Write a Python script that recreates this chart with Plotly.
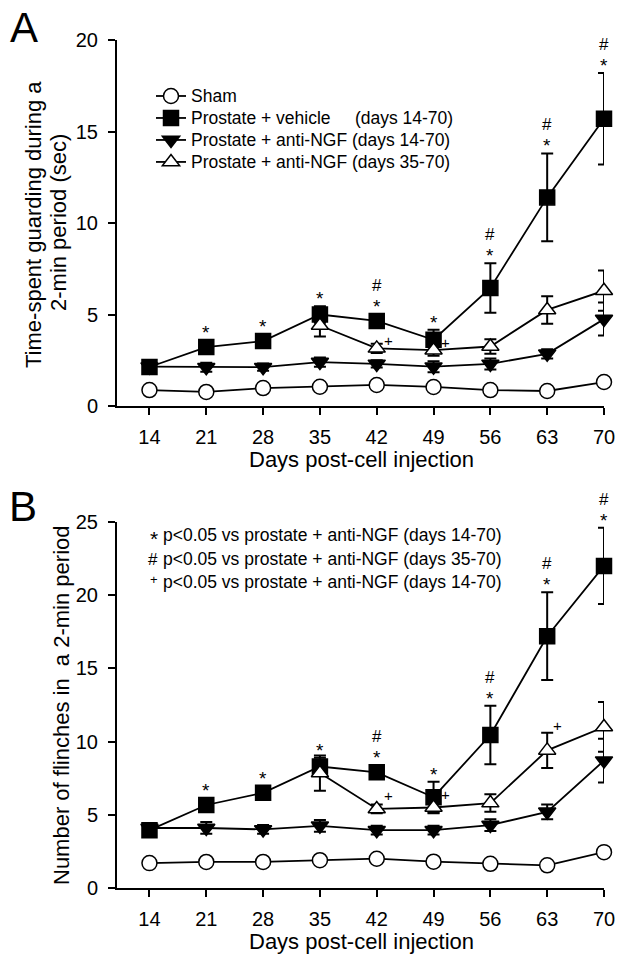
import plotly.graph_objects as go

# ---------------- data ----------------
days = [14, 21, 28, 35, 42, 49, 56, 63, 70]
days_late = [35, 42, 49, 56, 63, 70]
tick_labels = ["14", "21", "28", "35", "42", "49", "56", "63", "70"]

series_names = ["Sham",
                "Prostate + vehicle\u00a0\u00a0\u00a0\u00a0 (days 14-70)",
                "Prostate + anti-NGF (days 14-70)",
                "Prostate + anti-NGF (days 35-70)"]

# Panel A: time spent guarding (sec)
A_sham = [0.87, 0.77, 0.98, 1.05, 1.15, 1.04, 0.87, 0.82, 1.31]
A_sham_err = [0.12, 0.12, 0.12, 0.12, 0.12, 0.12, 0.12, 0.12, 0.15]
A_veh = [2.13, 3.22, 3.55, 5.0, 4.65, 3.62, 6.45, 11.4, 15.7]
A_veh_err = [0.2, 0.25, 0.25, 0.45, 0.3, 0.55, 1.35, 2.4, 2.5]
A_ngf1 = [2.15, 2.12, 2.12, 2.4, 2.3, 2.15, 2.3, 2.85, 4.75]
A_ngf1_err = [0.3, 0.25, 0.2, 0.25, 0.2, 0.3, 0.3, 0.25, 0.9]
A_ngf2 = [4.4, 3.15, 3.05, 3.25, 5.25, 6.3]
A_ngf2_err = [0.6, 0.25, 0.3, 0.4, 0.75, 1.1]
A_star = [21, 28, 35, 42, 49, 56, 63, 70]
A_hash = [42, 56, 63, 70]
A_plus = [42, 49]

# Panel B: number of flinches
B_sham = [1.7, 1.78, 1.78, 1.9, 2.0, 1.8, 1.65, 1.55, 2.45]
B_sham_err = [0.15, 0.15, 0.15, 0.15, 0.15, 0.15, 0.15, 0.15, 0.2]
B_veh = [3.95, 5.67, 6.5, 8.3, 7.9, 6.2, 10.45, 17.2, 22.0]
B_veh_err = [0.3, 0.3, 0.3, 0.6, 0.3, 1.05, 2.0, 3.0, 2.6]
B_ngf1 = [4.1, 4.1, 4.0, 4.25, 3.95, 3.95, 4.3, 5.2, 8.7]
B_ngf1_err = [0.3, 0.4, 0.3, 0.4, 0.3, 0.3, 0.4, 0.5, 1.5]
B_ngf2 = [7.85, 5.4, 5.5, 5.8, 9.4, 11.0]
B_ngf2_err = [1.2, 0.3, 0.4, 0.6, 1.2, 1.7]
B_star = [21, 28, 35, 42, 49, 56, 63, 70]
B_hash = [42, 56, 63, 70]
B_plus = [42, 49, 63]

sig_legend = [("*", "p<0.05 vs prostate + anti-NGF (days 14-70)"),
              ("#", "p<0.05 vs prostate + anti-NGF (days 35-70)"),
              ("+", "p<0.05 vs prostate + anti-NGF (days 14-70)")]

# ---------------- layout geometry ----------------
W, H = 624, 961
ML, MR, MT, MB = 117, 20, 40, 73
PW, PH = W - ML - MR, H - MT - MB
FONT = "Arial, Liberation Sans, sans-serif"


def px_x(p):
    return (p - ML) / PW


def px_y(p):
    return (H - MB - p) / PH


domA = [px_y(406), 1.0]
domB = [0.0, px_y(522)]
scaleA = (domA[1] - domA[0]) * PH / 20.0
scaleB = (domB[1] - domB[0]) * PH / 25.0

fig = go.Figure()

styles = [
    dict(symbol="circle", color="white"),
    dict(symbol="square", color="black"),
    dict(symbol="triangle-down", color="black"),
    dict(symbol="triangle-up", color="white"),
]


def add_panel(xa, ya, data, show):
    for i, (xs, ys, es) in enumerate(data):
        st = styles[i]
        fig.add_trace(go.Scatter(
            x=xs, y=ys, xaxis=xa, yaxis=ya, mode="lines+markers",
            name="<span style='font-size:17.5px'>" + series_names[i] + "</span>",
            showlegend=show, legendrank=i,
            line=dict(color="black", width=1.8),
            marker=dict(symbol=st["symbol"], size=15,
                        color=st["color"], line=dict(color="black", width=1.5)),
            error_y=dict(type="data", array=es, color="black", thickness=2, width=6),
            cliponaxis=False,
        ))


add_panel("x", "y", [(days, A_sham, A_sham_err), (days, A_veh, A_veh_err),
                     (days, A_ngf1, A_ngf1_err), (days_late, A_ngf2, A_ngf2_err)], True)
add_panel("x2", "y2", [(days, B_sham, B_sham_err), (days, B_veh, B_veh_err),
                       (days, B_ngf1, B_ngf1_err), (days_late, B_ngf2, B_ngf2_err)], False)

ann = []


def note(**kw):
    kw.setdefault("xanchor", "center")
    kw.setdefault("yanchor", "middle")
    kw.setdefault("showarrow", False)
    ann.append(kw)


STAR = "<span style='font-size:19px'>*</span>"


def sig_marks(xr, yr, vals, errs, stars, hashes, scale):
    for d in stars:
        k = days.index(d)
        top = max(vals[k] + errs[k], vals[k] + 7.0 / scale)
        txt = ("#<br>" + STAR) if d in hashes else STAR
        note(x=d, y=top, xref=xr, yref=yr, text=txt, yanchor="bottom",
             font=dict(size=17, color="black", family=FONT), yshift=-5)


sig_marks("x", "y", A_veh, A_veh_err, A_star, A_hash, scaleA)
sig_marks("x2", "y2", B_veh, B_veh_err, B_star, B_hash, scaleB)

for d in A_plus:
    k = days_late.index(d)
    note(x=d, y=A_ngf2[k], xref="x", yref="y", text="+",
         font=dict(size=15, color="black", family=FONT), xshift=12, yshift=8)
for d in B_plus:
    k = days_late.index(d)
    top = B_ngf2[k] + (B_ngf2_err[k] if d == 63 else 0)
    note(x=d, y=top, xref="x2", yref="y2", text="+",
         font=dict(size=15, color="black", family=FONT),
         xshift=10 if d == 63 else 12, yshift=7 if d == 63 else 13)

# panel letters
note(x=px_x(24), y=px_y(27), xref="paper", yref="paper", text="A",
     font=dict(size=42, color="black", family=FONT))
note(x=px_x(23), y=px_y(506), xref="paper", yref="paper", text="B",
     font=dict(size=42, color="black", family=FONT))

# axis titles
TF = dict(size=22, color="black", family=FONT)
note(x=px_x(33), y=px_y(225), xref="paper", yref="paper",
     text="Time-spent guarding during a", textangle=-90, font=TF)
note(x=px_x(58), y=px_y(223), xref="paper", yref="paper",
     text="2-min period (sec)", textangle=-90, font=TF)
note(x=px_x(61), y=px_y(705), xref="paper", yref="paper",
     text="Number of flinches in\u00a0 a 2-min period", textangle=-90, font=TF)
note(x=px_x(361), y=px_y(459), xref="paper", yref="paper",
     text="Days post-cell injection", font=TF)
note(x=px_x(361), y=px_y(941), xref="paper", yref="paper",
     text="Days post-cell injection", font=TF)

# significance legend in panel B
rows_y = [535, 559, 582]
sym_size = [21, 17, 13]
sym_shift = [-3, 0, 3]
for (sym, txt), py, ss, sh in zip(sig_legend, rows_y, sym_size, sym_shift):
    note(x=px_x(160), y=px_y(py), xref="paper", yref="paper", text=sym,
         xanchor="right", yshift=sh, font=dict(size=ss, color="black", family=FONT))
    note(x=px_x(161), y=px_y(py), xref="paper", yref="paper", text=txt,
         xanchor="left", font=dict(size=17.5, color="black", family=FONT))

axis_common = dict(showline=True, linecolor="black", linewidth=2, ticks="outside",
                   ticklen=7, tickwidth=2, tickcolor="black", showgrid=False,
                   zeroline=False, tickfont=dict(size=20, color="black", family=FONT))

fig.update_layout(
    width=W, height=H,
    margin=dict(l=ML, r=MR, t=MT, b=MB, autoexpand=False),
    paper_bgcolor="white", plot_bgcolor="white",
    font=dict(family=FONT, color="black"),
    showlegend=True,
    legend=dict(x=px_x(151), y=px_y(80), xanchor="left", yanchor="top",
                bgcolor="rgba(0,0,0,0)", font=dict(size=14.6, color="black", family=FONT),
                tracegroupgap=0, itemsizing="trace"),
    xaxis=dict(domain=[0, 1], anchor="y", range=[10, 70], tickvals=days,
               ticktext=tick_labels, ticklabelstandoff=5, **axis_common),
    yaxis=dict(domain=domA, anchor="x", range=[0, 20], tickvals=[0, 5, 10, 15, 20],
               ticklabelstandoff=6, **axis_common),
    xaxis2=dict(domain=[0, 1], anchor="y2", range=[10, 70], tickvals=days,
                ticktext=tick_labels, ticklabelstandoff=5, **axis_common),
    yaxis2=dict(domain=domB, anchor="x2", range=[0, 25], tickvals=[0, 5, 10, 15, 20, 25],
                ticklabelstandoff=6, **axis_common),
    annotations=ann,
)

fig.write_html("out.html", config={"displayModeBar": False},
               post_script="document.body.style.margin='0';")
